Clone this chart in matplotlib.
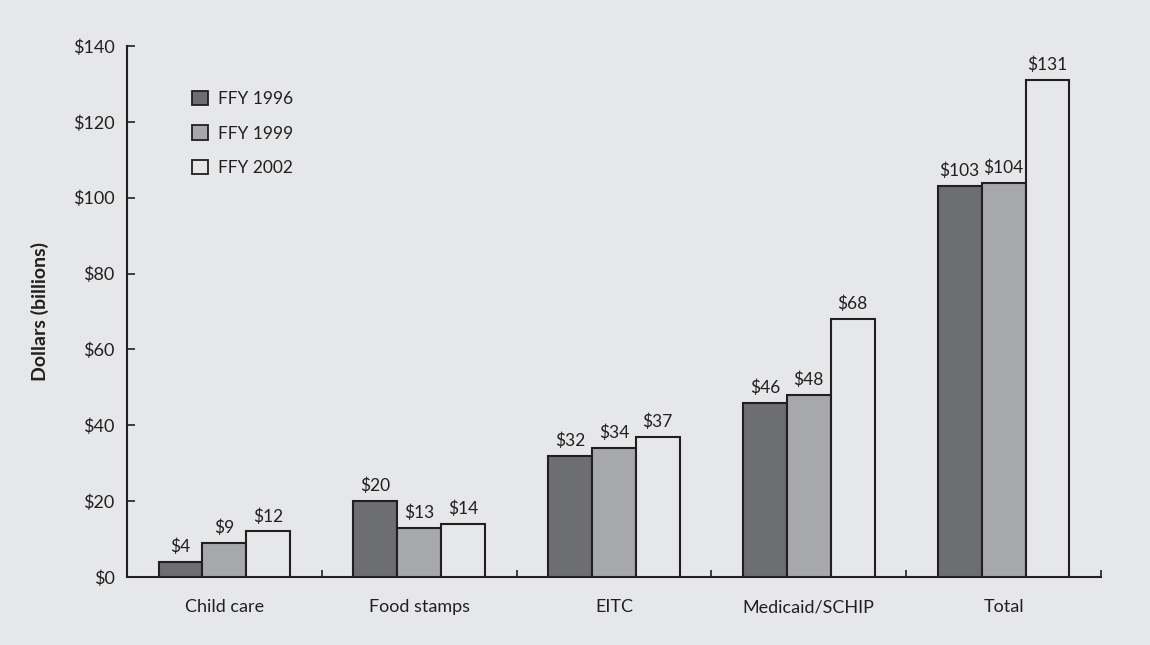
import matplotlib
matplotlib.use("Agg")
import matplotlib.pyplot as plt
import numpy as np
from matplotlib.patches import Patch

categories = ["Child care", "Food stamps", "EITC", "Medicaid/SCHIP", "Total"]
series_names = ["FFY 1996", "FFY 1999", "FFY 2002"]
fy1996 = [4, 20, 32, 46, 103]
fy1999 = [9, 13, 34, 48, 104]
fy2002 = [12, 14, 37, 68, 131]
yticks = [0, 20, 40, 60, 80, 100, 120, 140]

bg = "#e6e7e9"
ink = "#231f20"
colors = ["#6d6e72", "#a7a8ab", bg]

plt.rcParams['font.family'] = ['Lato', 'DejaVu Sans']
plt.rcParams['text.color'] = ink

fig = plt.figure(figsize=(11.5, 6.45), dpi=100, facecolor=bg)
ax = fig.add_axes([127/1150, 1-577/645, 974/1150, 531/645])
ax.set_facecolor(bg)

x = np.arange(len(categories))
w = 0.225
handles = []
for i, (vals, name) in enumerate(zip([fy1996, fy1999, fy2002], series_names)):
    pos = x + (i - 1) * w
    ax.bar(pos, vals, width=w, color=colors[i], edgecolor=ink, linewidth=1.5, zorder=3)
    for p, v in zip(pos, vals):
        ax.annotate(f"${v}", (p, v), xytext=(0, 5), textcoords="offset points",
                    ha="center", va="bottom", fontsize=12.5, color=ink)
    handles.append(Patch(facecolor=colors[i], edgecolor=ink, linewidth=1.3, label=name))

ax.set_xlim(-0.5, len(categories) - 0.5)
ax.set_ylim(0, 140)
ax.set_yticks(yticks)
ax.set_yticklabels([f"${t}" for t in yticks])
ax.set_xticks(x)
ax.set_xticklabels(categories)
ax.set_xticks(np.arange(-0.5, len(categories), 1.0), minor=True)

for s in ["top", "right"]:
    ax.spines[s].set_visible(False)
for s in ["left", "bottom"]:
    ax.spines[s].set_color(ink)
    ax.spines[s].set_linewidth(1.5)

ax.tick_params(axis="y", direction="in", length=6, width=1.2, color=ink,
               labelsize=13, labelcolor=ink, pad=9)
ax.tick_params(axis="x", which="major", length=0, labelsize=13, labelcolor=ink, pad=16)
ax.tick_params(axis="x", which="minor", direction="in", length=5, width=1.2, color=ink)

ax.set_ylabel("Dollars (billions)", fontsize=14, fontweight="bold", color=ink)
ax.yaxis.set_label_coords(-0.080, 0.5)

leg = ax.legend(handles=handles, loc="upper left", bbox_to_anchor=((185-127)/974, (577-84)/531),
                frameon=False, fontsize=12.5, handlelength=0.9, handleheight=0.9,
                labelspacing=1.05, handletextpad=0.6, borderaxespad=0)
for t in leg.get_texts():
    t.set_color(ink)

fig.savefig("out.png", dpi=100, facecolor=bg)
